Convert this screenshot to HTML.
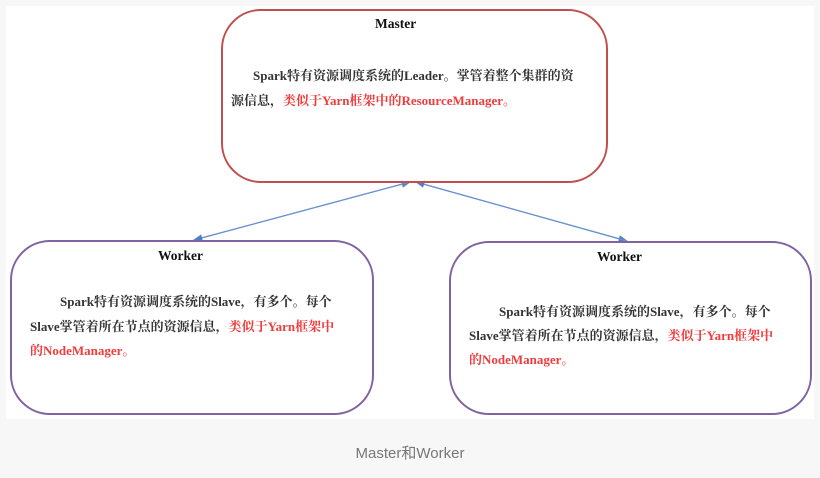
<!DOCTYPE html>
<html><head><meta charset="utf-8"><style>
body{margin:0;width:820px;height:478px;background:#f7f7f7;position:relative;overflow:hidden;font-family:"Liberation Serif","Noto Serif CJK SC",serif}
.img{position:absolute;left:6px;top:6px;width:808px;height:413px;background:#fff}
.box{position:absolute;box-sizing:border-box;border-radius:40px;border:2.5px solid}
.t{position:absolute;font-weight:bold;font-size:13.5px;color:#111;white-space:nowrap}
.l{position:absolute;font-size:13px;color:#333;white-space:nowrap;font-weight:bold}
.r{color:#f03c3c}
.cap{position:absolute;top:442px;left:0;width:820px;text-align:center;font-family:"Liberation Sans","Noto Sans CJK SC",sans-serif;font-size:15px;color:#777}
</style></head><body>
<div class="img"></div>
<svg style="position:absolute;left:0;top:0" width="820" height="478">
<defs><marker id="a" markerWidth="8" markerHeight="8" refX="7" refY="4" orient="auto"><path d="M0,1 L8,4 L0,7z" fill="#4f7fc4"/></marker></defs>
<line x1="194" y1="240" x2="410" y2="182" stroke="#6b93d0" stroke-width="1.2" marker-end="url(#a)"/>
<line x1="410" y1="182" x2="194" y2="240" stroke="#6b93d0" stroke-width="1.2" marker-end="url(#a)"/>
<line x1="416" y1="182" x2="627" y2="241" stroke="#6b93d0" stroke-width="1.2" marker-end="url(#a)"/>
<line x1="627" y1="241" x2="416" y2="182" stroke="#6b93d0" stroke-width="1.2" marker-end="url(#a)"/>
</svg>
<div class="box" style="left:221px;top:9px;width:387px;height:174px;border-color:#c0504d"></div>
<div class="box" style="left:10px;top:240px;width:364px;height:175px;border-color:#8064a2"></div>
<div class="box" style="left:449px;top:241px;width:363px;height:174px;border-color:#8064a2"></div>
<div class="t" style="left:375px;top:16px">Master</div>
<div class="l" style="left:253px;top:65px">Spark特有资源调度系统的Leader。掌管着整个集群的资</div>
<div class="l" style="left:231px;top:90px">源信息，<span class="r">类似于Yarn框架中的ResourceManager。</span></div>
<div class="t" style="left:158px;top:248px">Worker</div>
<div class="l" style="left:60px;top:291px">Spark特有资源调度系统的Slave，有多个。每个</div>
<div class="l" style="left:30px;top:316px">Slave掌管着所在节点的资源信息，<span class="r">类似于Yarn框架中</span></div>
<div class="l" style="left:30px;top:340px"><span class="r">的NodeManager。</span></div>
<div class="t" style="left:597px;top:249px">Worker</div>
<div class="l" style="left:499px;top:301px">Spark特有资源调度系统的Slave，有多个。每个</div>
<div class="l" style="left:469px;top:325px">Slave掌管着所在节点的资源信息，<span class="r">类似于Yarn框架中</span></div>
<div class="l" style="left:469px;top:349px"><span class="r">的NodeManager。</span></div>
<div class="cap">Master和Worker</div>
</body></html>
